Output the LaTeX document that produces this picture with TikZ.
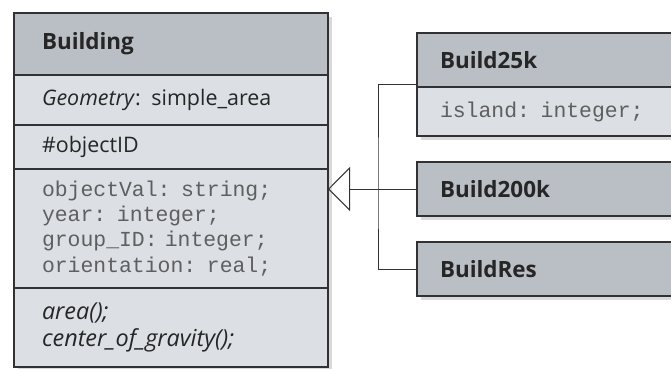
\documentclass[tikz,border=0pt]{standalone}
\usepackage{fontspec}
\setmainfont{Open Sans}
\setmonofont{Liberation Mono}
\usetikzlibrary{calc,arrows.meta,positioning,shadows}
\definecolor{hdrgray}{RGB}{186,190,197}
\definecolor{bodygray}{RGB}{220,223,228}
\definecolor{edgegray}{RGB}{50,50,52}
\definecolor{monogray}{RGB}{95,95,95}

\begin{document}
\begin{tikzpicture}[x=1bp, y=-1bp,
    box/.style={draw=edgegray, line width=1.6bp, outer sep=0pt, anchor=north west, align=left,
      drop shadow={shadow xshift=4bp, shadow yshift=-4bp, fill=black!25, opacity=.6}},
    bigbox/.style={box, minimum width=314bp, text width=258bp, inner xsep=28bp},
    smallbox/.style={box, minimum width=270bp, text width=224bp, inner xsep=23bp},
    hdr/.style={fill=hdrgray, text=black!85, font=\fontsize{22.5}{26}\selectfont\bfseries},
    sect/.style={fill=bodygray, text=black!85, font=\fontsize{21.5}{27}\selectfont},
    ops/.style={sect, font=\fontsize{23.5}{27}\selectfont\itshape},
    attr/.style={fill=bodygray, text=monogray, font=\fontsize{21.5}{25.3}\selectfont\ttfamily},
    link/.style={draw=edgegray, line width=1bp}]
    \useasboundingbox (0,0) rectangle (671,368);
    \clip (0,0) rectangle (671,368);

    % superclass
    \node[bigbox, hdr, minimum height=62bp] (bld) at (14,13) {Building};
    \node[bigbox, sect, minimum height=50bp, below=0pt of bld] (geo) {\textit{Geometry}: simple\_area};
    \node[bigbox, sect, minimum height=44bp, below=0pt of geo] (oid) {\#objectID};
    \node[bigbox, attr, minimum height=119bp, below=0pt of oid] (vals) {objectVal: string;\\year: integer;\\group\_ID: integer;\\orientation: real;};
    \node[bigbox, ops, minimum height=79bp, below=0pt of vals] (meth) {area();\\center\_of\_gravity();};

    % subclasses
    \node[smallbox, hdr, minimum height=54bp] (b25) at (417,33) {Build25k};
    \node[smallbox, attr, minimum height=49bp, below=0pt of b25] (b25body) {island: integer;};
    \node[smallbox, hdr, minimum height=54bp] (b200) at (417,162) {Build200k};
    \node[smallbox, hdr, minimum height=54bp] (bres) at (417,242) {BuildRes};

    % generalisation
    \coordinate (jn) at ($(b200.west)+(-39,0)$);
    \draw[link, -{Triangle[open, length=22bp, width=44bp]}] (b200.west) -- (vals.east |- b200.west);
    \draw[link] ($(b25.south west)+(0,-3)$) -| (jn) |- (bres.west);
\end{tikzpicture}
\end{document}
